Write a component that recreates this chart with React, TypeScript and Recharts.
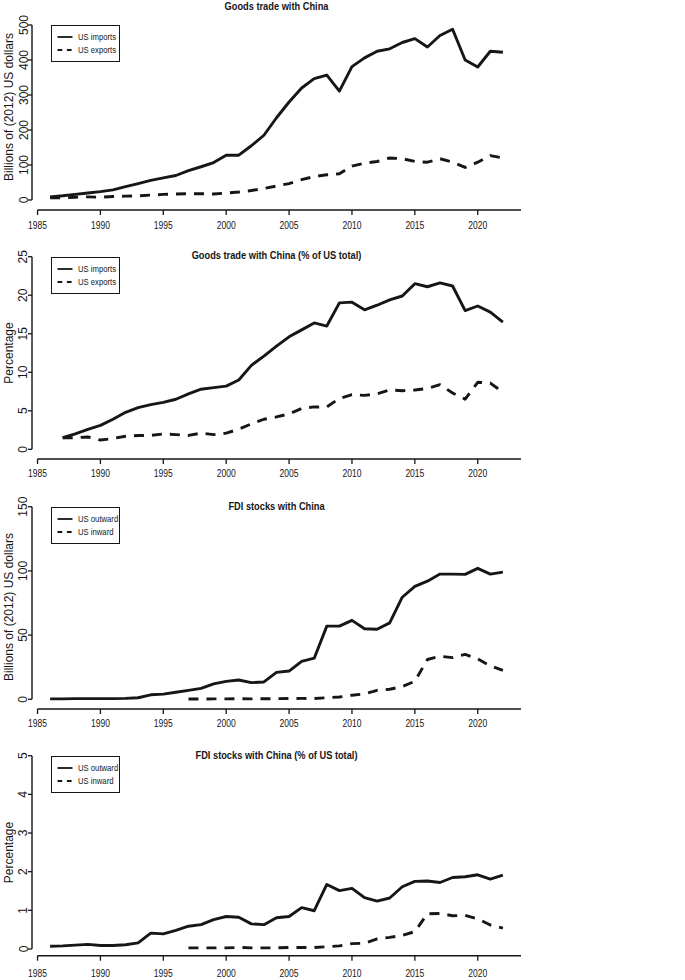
import React from "react";
import { LineChart, Line, XAxis, YAxis, Legend } from "recharts";

// years on the x axis
const years = [
  1986, 1987, 1988, 1989, 1990, 1991, 1992, 1993, 1994, 1995, 1996, 1997, 1998,
  1999, 2000, 2001, 2002, 2003, 2004, 2005, 2006, 2007, 2008, 2009, 2010, 2011,
  2012, 2013, 2014, 2015, 2016, 2017, 2018, 2019, 2020, 2021, 2022,
];
const yearTicks = [1985, 1990, 1995, 2000, 2005, 2010, 2015, 2020];

// goods trade, billions of 2012 dollars
const goodsImports = [
  9, 12, 16, 20, 24, 29, 38, 47, 56, 63, 70, 84, 95, 107, 128, 128, 155, 185,
  235, 280, 320, 347, 357, 311, 381, 406, 425, 432, 450, 461, 437, 470, 488,
  400, 380, 425, 422,
];
const goodsExports = [
  6, 6, 8, 9, 8, 10, 11, 12, 14, 16, 17, 18, 18, 17, 20, 23, 27, 33, 40, 47, 58,
  67, 72, 75, 97, 105, 110, 120, 118, 110, 108, 118, 108, 93, 108, 127, 120,
];

// goods trade, % of US total
const shareImports = [
  null, 1.5, 2.0, 2.6, 3.1, 3.9, 4.8, 5.4, 5.8, 6.1, 6.5, 7.2, 7.8, 8.0, 8.2,
  9.0, 10.9, 12.1, 13.4, 14.6, 15.5, 16.4, 16.0, 19.0, 19.1, 18.1, 18.7, 19.4,
  19.9, 21.5, 21.1, 21.6, 21.2, 18.0, 18.6, 17.8, 16.5,
];
const shareExports = [
  null, 1.5, 1.5, 1.6, 1.2, 1.4, 1.7, 1.8, 1.8, 2.0, 1.9, 1.8, 2.1, 1.9, 2.1,
  2.6, 3.3, 3.9, 4.2, 4.6, 5.3, 5.5, 5.5, 6.6, 7.1, 7.0, 7.2, 7.7, 7.6, 7.7,
  7.9, 8.4, 7.3, 6.5, 8.7, 8.6, 7.4,
];

// FDI stocks, billions of 2012 dollars
const fdiOutward = [
  0.3, 0.3, 0.5, 0.5, 0.5, 0.5, 0.7, 1.2, 3.5, 4, 5.5, 7, 8.5, 12, 14, 15, 13,
  13.5, 21, 22, 29.5, 32, 57, 57, 61.5, 55, 54.5, 59.5, 79.5, 88, 92, 97.5,
  97.5, 97.3, 102, 97.5, 99,
];
const fdiInward = [
  null, null, null, null, null, null, null, null, null, null, null, 0.2, 0.2,
  0.3, 0.3, 0.5, 0.3, 0.4, 0.5, 0.6, 0.7, 0.6, 1.2, 1.8, 3.2, 4.2, 7.0, 7.8,
  10, 14, 31, 33.5, 32.5, 35, 31.5, 26, 22.5,
];

// FDI stocks, % of US total
const fdiOutShare = [
  0.07, 0.08, 0.1, 0.12, 0.09, 0.09, 0.11, 0.16, 0.41, 0.39, 0.48, 0.59, 0.63,
  0.76, 0.84, 0.82, 0.65, 0.63, 0.81, 0.84, 1.07, 0.99, 1.67, 1.51, 1.57, 1.33,
  1.24, 1.32, 1.61, 1.75, 1.76, 1.72, 1.85, 1.87, 1.92, 1.81, 1.91,
];
const fdiInShare = [
  null, null, null, null, null, null, null, null, null, null, null, 0.03, 0.03,
  0.03, 0.03, 0.04, 0.03, 0.03, 0.03, 0.04, 0.04, 0.04, 0.06, 0.08, 0.14, 0.15,
  0.26, 0.3, 0.35, 0.45, 0.91, 0.92, 0.86, 0.87, 0.78, 0.62, 0.54,
];

// no narrow face installed, so squeeze Liberation Sans horizontally instead
const SANS = "'Liberation Sans', Arial, Helvetica, sans-serif";
const SQUEEZE = 0.82;
const INK = "#161616";

const X_MIN = 1984.56;
const X_MAX = 2023.44;
const PLOT_LEFT = 32;
const PLOT_RIGHT = 521;

type Panel = {
  top: number;
  height: number;
  maxY: number; // page y of the top tick
  zeroY: number; // page y of 0
  axisY: number; // page y of the x axis line
  labelGap: number;
  titleY: number;
  yTitleY: number;
  title: string;
  yTitle: string;
  yMax: number;
  yTicks: number[];
  names: [string, string];
  a: (number | null)[];
  b: (number | null)[];
};

const panels: Panel[] = [
  {
    top: 0, height: 240, maxY: 25, zeroY: 200, axisY: 210, labelGap: 15, titleY: 5.5, yTitleY: 107,
    title: "Goods trade with China", yTitle: "Billions of (2012) US dollars",
    yMax: 500, yTicks: [0, 100, 200, 300, 400, 500],
    names: ["US imports", "US exports"], a: goodsImports, b: goodsExports,
  },
  {
    top: 240, height: 250, maxY: 256.7, zeroY: 449.3, axisY: 459, labelGap: 14.5, titleY: 255.3, yTitleY: 353,
    title: "Goods trade with China (% of US total)", yTitle: "Percentage",
    yMax: 25, yTicks: [0, 5, 10, 15, 20, 25],
    names: ["US imports", "US exports"], a: shareImports, b: shareExports,
  },
  {
    top: 490, height: 245, maxY: 506.7, zeroY: 699.3, axisY: 709, labelGap: 14.5, titleY: 505.5, yTitleY: 607,
    title: "FDI stocks with China", yTitle: "Billions of (2012) US dollars",
    yMax: 150, yTicks: [0, 50, 100, 150],
    names: ["US outward", "US inward"], a: fdiOutward, b: fdiInward,
  },
  {
    top: 735, height: 245, maxY: 755.7, zeroY: 949, axisY: 955.7, labelGap: 17, titleY: 755.3, yTitleY: 852.5,
    title: "FDI stocks with China (% of US total)", yTitle: "Percentage",
    yMax: 5, yTicks: [0, 1, 2, 3, 4, 5],
    names: ["US outward", "US inward"], a: fdiOutShare, b: fdiInShare,
  },
];

function NarrowText({ x, y, anchor = "start", size, children }: any) {
  return (
    <text
      transform={`translate(${x} ${y}) scale(${SQUEEZE} 1)`}
      x={0}
      y={0}
      textAnchor={anchor}
      dominantBaseline="central"
      fontSize={size}
      fontFamily={SANS}
      fill={INK}
    >
      {children}
    </text>
  );
}

function LegendBox({ names }: { names: [string, string] }) {
  return (
    <div
      style={{
        width: 69,
        height: 37,
        boxSizing: "border-box",
        border: `1px solid ${INK}`,
        background: "#fff",
        position: "relative",
      }}
    >
      <svg width={67} height={35} style={{ position: "absolute", left: 0, top: 0 }}>
        <line x1={5.5} x2={20.5} y1={11} y2={11} stroke={INK} strokeWidth={1.8} />
        <line x1={5.5} x2={20.5} y1={24} y2={24} stroke={INK} strokeWidth={1.8} strokeDasharray="4.7 4.7" />
        <NarrowText x={26} y={11} size={9.4}>{names[0]}</NarrowText>
        <NarrowText x={26} y={24} size={9.4}>{names[1]}</NarrowText>
      </svg>
    </div>
  );
}

function ChartPanel({ p }: { p: Panel }) {
  const rows = years.map((year, i) => ({ year, a: p.a[i], b: p.b[i] }));
  const marginTop = p.maxY - p.top;
  const valuePx = p.zeroY - p.maxY;
  const padBottom = p.axisY - p.zeroY;
  const xAxisHeight = p.top + p.height - p.axisY;
  const leftGap = ((1985 - X_MIN) * (PLOT_RIGHT - PLOT_LEFT)) / (X_MAX - X_MIN);
  const yTitleY = p.yTitleY - p.top;

  return (
    <div style={{ position: "absolute", left: 0, top: p.top }}>
      <div
        style={{
          position: "absolute",
          left: 0,
          width: PLOT_LEFT + PLOT_RIGHT,
          top: p.titleY - p.top - 7,
          height: 14,
          lineHeight: "14px",
          textAlign: "center",
          fontFamily: SANS,
          fontWeight: "bold",
          fontSize: 10.9,
          color: INK,
          transform: "scaleX(0.85)",
          transformOrigin: "50% 50%",
          zIndex: 2,
        }}
      >
        {p.title}
      </div>
      <LineChart
        width={685}
        height={p.height}
        data={rows}
        margin={{ top: marginTop, right: 685 - PLOT_RIGHT, bottom: 0, left: 0 }}
      >
        <XAxis
          dataKey="year"
          type="number"
          domain={[X_MIN, X_MAX]}
          ticks={yearTicks}
          interval={0}
          height={xAxisHeight}
          tickSize={5}
          tickMargin={0}
          axisLine={{ stroke: INK, strokeWidth: 1.4, strokeDasharray: `0 ${leftGap} 2000` }}
          tickLine={{ stroke: INK, strokeWidth: 1.3 }}
          tick={({ x, y, payload }: any) => (
            <NarrowText x={x} y={y - 5 + p.labelGap} anchor="middle" size={10.4}>
              {payload.value}
            </NarrowText>
          )}
        />
        <YAxis
          type="number"
          domain={[0, p.yMax]}
          ticks={p.yTicks}
          interval={0}
          width={PLOT_LEFT}
          padding={{ top: 0, bottom: padBottom }}
          tickSize={4}
          tickMargin={0}
          axisLine={{ stroke: INK, strokeWidth: 1.4, strokeDasharray: `${valuePx} 2000` }}
          tickLine={{ stroke: INK, strokeWidth: 1.3 }}
          tick={({ y, payload }: any) => (
            <text
              x={23.5}
              y={y}
              transform={`rotate(-90 23.5 ${y})`}
              textAnchor="middle"
              dominantBaseline="central"
              fontSize={12}
              fontFamily={SANS}
              fill={INK}
            >
              {payload.value}
            </text>
          )}
          label={() => (
            <text
              x={8.5}
              y={yTitleY}
              transform={`rotate(-90 8.5 ${yTitleY})`}
              textAnchor="middle"
              dominantBaseline="central"
              fontSize={12}
              fontFamily={SANS}
              fill={INK}
            >
              {p.yTitle}
            </text>
          )}
        />
        <Legend
          layout="horizontal"
          verticalAlign="middle"
          align="center"
          wrapperStyle={{ left: 50.5, top: marginTop, width: 69, height: 37 }}
          content={() => <LegendBox names={p.names} />}
        />
        <Line
          dataKey="a"
          name={p.names[0]}
          type="linear"
          stroke={INK}
          strokeWidth={2.9}
          strokeLinejoin="round"
          dot={false}
          isAnimationActive={false}
        />
        <Line
          dataKey="b"
          name={p.names[1]}
          type="linear"
          stroke={INK}
          strokeWidth={2.9}
          strokeLinejoin="round"
          strokeDasharray="10 8"
          dot={false}
          isAnimationActive={false}
        />
      </LineChart>
    </div>
  );
}

export default function App() {
  return (
    <div
      style={{
        position: "absolute",
        left: 0,
        top: 0,
        width: 685,
        height: 980,
        background: "#fff",
        overflow: "hidden",
      }}
    >
      {panels.map((p) => (
        <ChartPanel key={p.title} p={p} />
      ))}
    </div>
  );
}
